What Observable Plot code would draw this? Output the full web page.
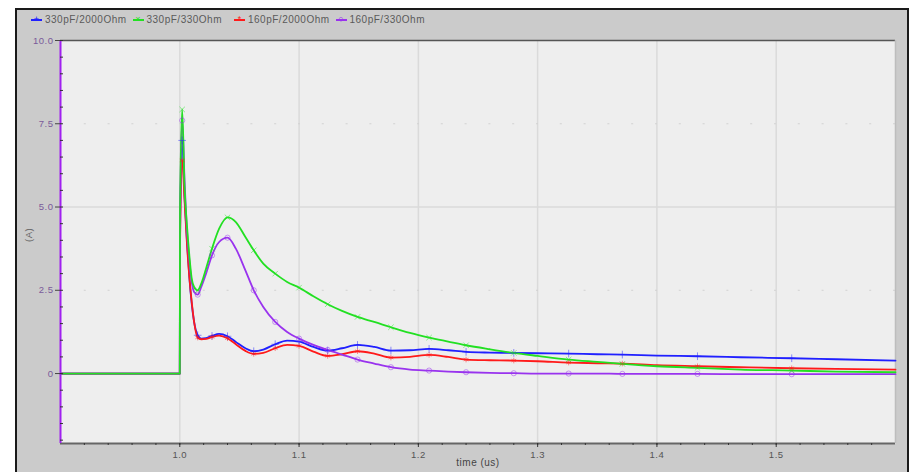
<!DOCTYPE html>
<html><head><meta charset="utf-8">
<script src="https://cdn.jsdelivr.net/npm/d3@7"></script>
<script src="https://cdn.jsdelivr.net/npm/@observablehq/plot@0.6"></script>
<style>
body{margin:0;background:#fff;font-family:"Liberation Sans",Arial,sans-serif;}
#wrap{position:relative;width:911px;height:472px;overflow:hidden;}
#frame{position:absolute;left:15px;top:8px;width:890px;height:480px;border:2px solid #1a1a1a;background:#cbcbcb;}
#legend{position:absolute;left:31px;top:14px;display:flex;font-size:10px;letter-spacing:0.5px;color:#5a5a5a;}
#legend .item{width:101.5px;display:flex;align-items:center;white-space:nowrap;}
#legend .sw{position:relative;display:inline-block;width:11px;height:2px;margin-right:3px;}
#legend .sym{position:absolute;left:2px;top:-6px;font-size:9px;line-height:12px;width:7px;text-align:center;letter-spacing:0;}
#chart{position:absolute;left:0;top:0;}
</style>
</head><body>
<div id="wrap"><div id="frame"></div><div id="legend"></div><div id="chart"></div></div>
<script>
const time = [0.9, 1.0, 1.0002, 1.002, 1.004, 1.006, 1.008, 1.010, 1.012, 1.015, 1.018, 1.022, 1.027, 1.033, 1.040, 1.047, 1.055, 1.062, 1.070, 1.080, 1.090, 1.100, 1.112, 1.124, 1.136, 1.149, 1.163, 1.177, 1.193, 1.209, 1.225, 1.240, 1.260, 1.280, 1.300, 1.326, 1.350, 1.371, 1.400, 1.434, 1.470, 1.513, 1.550, 1.600];
// 330pF/2000Ohm (blue)
const s330pF2000 = [0, 0, 4.0, 7.0, 5.3, 4.0, 2.9, 2.1, 1.55, 1.15, 1.05, 1.06, 1.13, 1.19, 1.12, 0.95, 0.76, 0.67, 0.72, 0.88, 0.99, 0.96, 0.80, 0.69, 0.76, 0.86, 0.80, 0.69, 0.70, 0.74, 0.70, 0.65, 0.63, 0.62, 0.61, 0.60, 0.58, 0.57, 0.54, 0.52, 0.49, 0.46, 0.43, 0.39];
// 330pF/330Ohm (green)
const s330pF330 = [0, 0, 4.85, 7.93, 5.6, 4.45, 3.55, 2.85, 2.6, 2.5, 2.7, 3.15, 3.75, 4.35, 4.69, 4.55, 4.1, 3.7, 3.3, 3.0, 2.75, 2.58, 2.32, 2.08, 1.88, 1.70, 1.55, 1.39, 1.22, 1.08, 0.96, 0.85, 0.73, 0.62, 0.53, 0.42, 0.35, 0.29, 0.22, 0.17, 0.12, 0.09, 0.06, 0.04];
// 160pF/2000Ohm (red)
const s160pF2000 = [0, 0, 3.8, 6.4, 5.2, 3.9, 2.9, 2.15, 1.55, 1.08, 1.03, 1.04, 1.10, 1.14, 1.06, 0.88, 0.68, 0.59, 0.62, 0.76, 0.86, 0.83, 0.66, 0.53, 0.58, 0.67, 0.60, 0.48, 0.50, 0.56, 0.50, 0.42, 0.40, 0.39, 0.37, 0.33, 0.31, 0.30, 0.25, 0.22, 0.19, 0.16, 0.14, 0.12];
// 160pF/330Ohm (purple)
const s160pF330 = [0, 0, 4.5, 7.6, 5.8, 4.3, 3.4, 2.75, 2.45, 2.37, 2.6, 3.0, 3.55, 3.95, 4.08, 3.75, 3.1, 2.5, 2.0, 1.55, 1.25, 1.05, 0.86, 0.71, 0.57, 0.42, 0.30, 0.19, 0.12, 0.09, 0.06, 0.04, 0.02, 0.01, 0.0, 0.0, 0.0, -0.01, -0.01, -0.01, -0.02, -0.02, -0.02, -0.02];

const seriesNames = ["330pF/2000Ohm", "330pF/330Ohm", "160pF/2000Ohm", "160pF/330Ohm"];
const seriesValues = [s330pF2000, s330pF330, s160pF2000, s160pF330];
const seriesColors = ["#2020ff", "#22e022", "#ff1a1a", "#9933ee"];
const seriesSymbols = ["plus", "times", "asterisk", "circle"];
const legendGlyphs = ["+", "×", "*", "○"];
const drawOrder = [0, 2, 3, 1];
const markerTimes = [1.002, 1.015, 1.027, 1.040, 1.062, 1.080, 1.100, 1.124, 1.149, 1.177, 1.209, 1.240, 1.280, 1.326, 1.371, 1.434, 1.513];

const xTicks = [1.0, 1.1, 1.2, 1.3, 1.4, 1.5];
const xTickLabels = ["1.0", "1.1", "1.2", "1.3", "1.4", "1.5"];
const yTicks = [0, 2.5, 5, 7.5, 10];
const yTickLabels = ["0", "2.5", "5.0", "7.5", "10.0"];
const xMinor = d3.range(0.92, 1.599, 0.02);
const yMinor = d3.range(-2.0, 10.01, 0.5);

const rows = [];
drawOrder.forEach(si => {
  time.forEach((t, i) => rows.push({t, v: seriesValues[si][i], s: seriesNames[si], k: si}));
});
const markerRows = rows.filter(r => markerTimes.includes(r.t));

// legend
const leg = document.getElementById("legend");
seriesNames.forEach((n, i) => {
  const it = document.createElement("div");
  it.className = "item";
  it.innerHTML = `<span class="sw" style="background:${seriesColors[i]}"><span class="sym" style="color:${seriesColors[i]}">${legendGlyphs[i]}</span></span><span>${n}</span>`;
  leg.appendChild(it);
});

const marks = [
  Plot.frame({fill: "#eeeeee"}),
  Plot.ruleX(xTicks, {stroke: "#dadada", strokeWidth: 1.5}),
  Plot.ruleY([5], {stroke: "#dadada", strokeWidth: 1.5}),
  Plot.ruleY([2.5, 7.5], {stroke: "#d2d2d2", strokeWidth: 1, strokeDasharray: "2,21.8"}),
  Plot.ruleY([10], {stroke: "#555", strokeWidth: 1.5}),
  Plot.ruleY([-2.1], {stroke: "#666", strokeWidth: 2}),
  Plot.ruleX([1.6], {stroke: "#bdbdbd", strokeWidth: 1.5}),
];
drawOrder.forEach(si => {
  marks.push(Plot.line(rows.filter(r => r.k === si), {x: "t", y: "v", stroke: seriesColors[si], strokeWidth: 1.8, curve: "monotone-x"}));
});
drawOrder.forEach(si => {
  marks.push(Plot.dot(markerRows.filter(r => r.k === si), {x: "t", y: "v", stroke: seriesColors[si], symbol: seriesSymbols[si], r: 2.6, strokeWidth: 0.9, strokeOpacity: 0.55}));
});
marks.push(
  Plot.ruleX([0.9], {stroke: "#a020f0", strokeWidth: 2}),
  Plot.axisX(xTicks, {tickSize: 4, tickPadding: 4, stroke: "#333", fill: "#555", fontSize: 9.5, tickFormat: d => xTickLabels[xTicks.indexOf(d)], label: null}),
  Plot.axisX(xMinor, {tickSize: 2, stroke: "#333", tickFormat: () => "", label: null}),
  Plot.axisY(yTicks, {tickSize: 5, tickPadding: 2, stroke: "#444", fill: "#7a5a9a", fontSize: 9.5, tickFormat: d => yTickLabels[yTicks.indexOf(d)], label: null}),
  Plot.axisY(yMinor, {tickSize: 3, dx: 3, stroke: "#333", tickFormat: () => "", label: null}),
  Plot.text(["time (us)"], {frameAnchor: "bottom", dy: 22, fontSize: 10, fill: "#444"}),
  Plot.text(["(A)"], {frameAnchor: "left", dx: -32, rotate: -90, fontSize: 9.5, fill: "#666"})
);

const chart = Plot.plot({
  width: 911, height: 472,
  marginLeft: 60, marginRight: 16, marginTop: 40, marginBottom: 29,
  style: {background: "transparent", fontFamily: "'Liberation Sans', Arial, sans-serif", fontSize: "9.5px", letterSpacing: "0.5px"},
  x: {domain: [0.9, 1.6]},
  y: {domain: [-2.1, 10]},
  marks
});
document.getElementById("chart").appendChild(chart);
</script>
</body></html>
